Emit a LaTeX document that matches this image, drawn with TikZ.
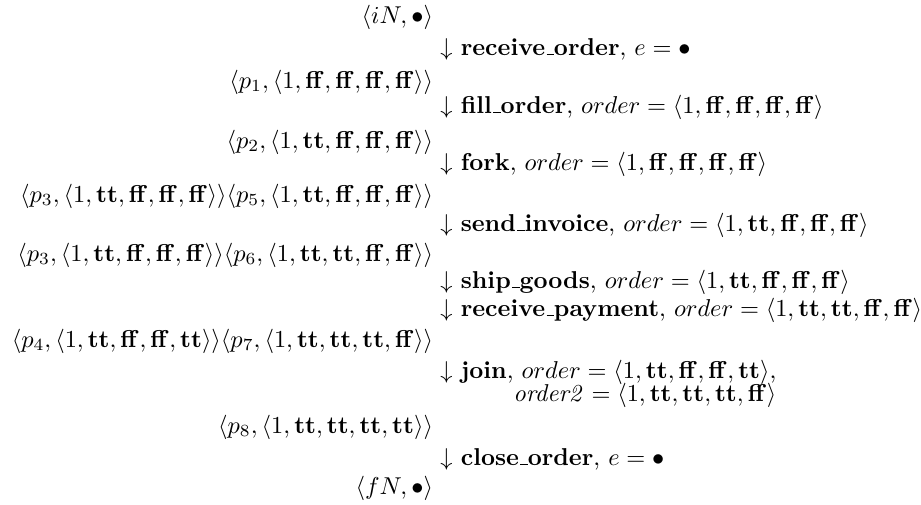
\documentclass[tikz,border=0pt]{standalone}
\usetikzlibrary{positioning}

\newcommand{\btt}{\mathbf{tt}}
\newcommand{\bff}{\mathbf{ff}}
\newcommand{\tpl}[1]{\langle #1\rangle}
\newcommand{\usc}{\kern.06em\vbox{\hrule width.3em}}

\begin{document}
\begin{tikzpicture}[
  x=0.41pt, y=-0.41pt,
  state/.style = {anchor=base east, inner sep=0pt},
  trans/.style = {anchor=base west, inner sep=0pt},
]
  \useasboundingbox (0,0) rectangle (921,504);

  % ---- markings (right-aligned column) ----
  \node[state] (m0)  at (433.5, 23)  {$\tpl{iN, \bullet}$};
  \node[state] (m1)  at (433.5, 88)  {$\tpl{p_1, \tpl{1, \bff, \bff, \bff, \bff}}$};
  \node[state] (m2)  at (433.5, 148) {$\tpl{p_2, \tpl{1, \btt, \bff, \bff, \bff}}$};
  \node[state] (m3)  at (433.5, 202) {$\tpl{p_3, \tpl{1, \btt, \bff, \bff, \bff}}\tpl{p_5, \tpl{1, \btt, \bff, \bff, \bff}}$};
  \node[state] (m4)  at (433.5, 261) {$\tpl{p_3, \tpl{1, \btt, \bff, \bff, \bff}}\tpl{p_6, \tpl{1, \btt, \btt, \bff, \bff}}$};
  \node[state] (m5)  at (433.5, 347) {$\tpl{p_4, \tpl{1, \btt, \bff, \bff, \btt}}\tpl{p_7, \tpl{1, \btt, \btt, \btt, \bff}}$};
  \node[state] (m6)  at (433.5, 433) {$\tpl{p_8, \tpl{1, \btt, \btt, \btt, \btt}}$};
  \node[state] (m7)  at (433.5, 494) {$\tpl{fN, \bullet}$};

  % ---- firings (left-aligned column) ----
  \node[trans] (t1)  at (440, 55)  {$\downarrow$ \textbf{receive\usc order}, $e = \bullet$};
  \node[trans] (t2)  at (440, 113) {$\downarrow$ \textbf{fill\usc order}, $order = \tpl{1, \bff, \bff, \bff, \bff}$};
  \node[trans] (t3)  at (440, 170) {$\downarrow$ \textbf{fork}, $order = \tpl{1, \bff, \bff, \bff, \bff}$};
  \node[trans] (t4)  at (440, 231) {$\downarrow$ \textbf{send\usc invoice}, $order = \tpl{1, \btt, \bff, \bff, \bff}$};
  \node[trans] (t5)  at (440, 288) {$\downarrow$ \textbf{ship\usc goods}, $order = \tpl{1, \btt, \bff, \bff, \bff}$};
  \node[trans] (t6)  at (440, 316) {$\downarrow$ \textbf{receive\usc payment}, $order = \tpl{1, \btt, \btt, \bff, \bff}$};
  \node[trans] (t7)  at (440, 378) {$\downarrow$ \textbf{join}, $order = \tpl{1, \btt, \bff, \bff, \btt}$,};
  \node[trans] (t7b) at (513, 401) {$\mathit{order2} = \tpl{1, \btt, \btt, \btt, \bff}$};
  \node[trans] (t8)  at (440, 465) {$\downarrow$ \textbf{close\usc order}, $e = \bullet$};
\end{tikzpicture}
\end{document}
